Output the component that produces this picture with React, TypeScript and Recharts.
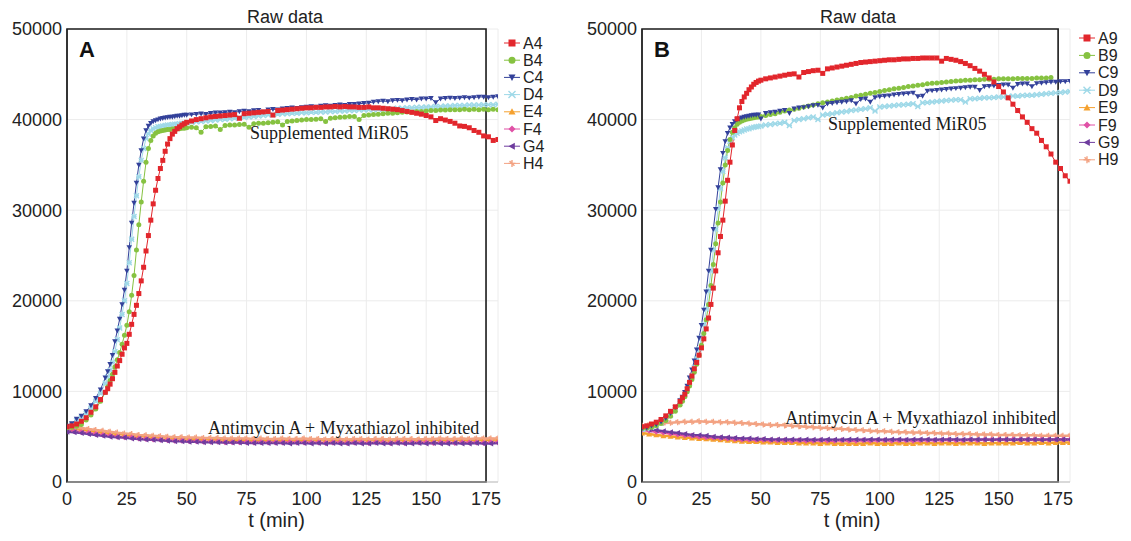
import React from "react";
import {
  LineChart,
  Line,
  XAxis,
  YAxis,
  CartesianGrid,
  ReferenceArea,
  ReferenceDot,
  Label,
} from "recharts";

// sampling grid of the rising wells (denser through the rise)
const riseMinutes = [
  0, 2, 4, 6, 8, 10, 12, 14, 16,
  17, 18, 19, 20, 21, 22, 23, 24, 25, 26, 27, 28, 29, 30, 31, 32,
  33, 34, 35, 36, 37, 38, 39, 40, 41, 42, 43, 44, 45, 46, 47, 48, 49, 50,
  52, 54, 56, 58, 60, 62, 64, 66, 68, 70,
  72, 74, 76, 78, 80, 82, 84, 86, 88, 90,
  92, 94, 96, 98, 100, 102, 104, 106, 108, 110,
  112, 114, 116, 118, 120, 122, 124, 126, 128, 130,
  132, 134, 136, 138, 140, 142, 144, 146, 148, 150,
  152, 154, 156, 158, 160, 162, 164, 166, 168, 170,
  172, 174, 176, 178, 180,
];

// sampling grid of the inhibited wells
const flatMinutes = [
  0, 3, 6, 9, 12, 15, 18, 21, 24, 27,
  30, 33, 36, 39, 42, 45, 48, 51, 54, 57,
  60, 63, 66, 69, 72, 75, 78, 81, 84, 87,
  90, 93, 96, 99, 102, 105, 108, 111, 114, 117,
  120, 123, 126, 129, 132, 135, 138, 141, 144, 147,
  150, 153, 156, 159, 162, 165, 168, 171, 174, 177,
  180,
];

const xTicks = [0, 25, 50, 75, 100, 125, 150, 175];
const yTicks = [0, 10000, 20000, 30000, 40000, 50000];

// ---- panel A: wells A4..H4 ----
const a4 = [
  6100, 6200, 6400, 6700, 7100, 7700, 8300, 9100, 9900,
  10300, 10800, 11400, 12100, 12800, 13400, 14100, 14800, 15300, 16300, 17400, 18500, 19500, 20800, 22200, 23700,
  25500, 27200, 28900, 30700, 32200, 33500, 34600, 35500, 36500, 37300, 37900, 38400, 38700, 39000, 39200, 39400, 39550, 39700,
  39850, 40000, 40100, 40200, 40300, 40350, 40400, 40450, 40500, 40550,
  40150, 40650, 40700, 40750, 40800, 40850, 40900, 40500, 41000, 41050,
  41100, 41150, 41200, 41250, 41300, 41300, 41350, 41350, 41400, 41400,
  41450, 41400, 41450, 41400, 41400, 41350, 41350, 41400, 41300, 41300,
  41250, 41200, 41150, 41100, 41000, 40900, 40800, 40700, 40600, 40450,
  40300, 39900, 40100, 39950, 39800, 39600, 39300, 39250, 39100, 38800,
  38600, 38200, 38100, 37700, 37800,
];
const b4 = [
  6000, 6050, 6150, 6350, 6850, 7400, 8050, 8900, 9900,
  10500, 11200, 11900, 12700, 13500, 14300, 15200, 16200, 17300, 18800, 20600, 22800, 25600, 28400, 30900, 33200,
  35300, 36800, 37700, 38200, 38500, 38650, 38750, 38800, 38850, 38900, 38900, 38950, 39000, 38950, 39000, 39050, 39050, 39100,
  39150, 39100, 38600, 39200, 39250, 39300, 38900, 39350, 39400, 39400,
  39450, 39500, 39150, 39550, 39600, 39600, 39650, 39700, 39750, 39400,
  39800, 39850, 39900, 39950, 40000, 40000, 40050, 40100, 39800, 40150,
  40200, 40250, 40300, 40350, 40350, 40000, 40450, 40500, 40550, 40600,
  40650, 40700, 40700, 40750, 40800, 40850, 40850, 40900, 40900, 40950,
  41000, 41000, 41050, 41050, 41100, 41100, 41100, 41150, 41100, 41150,
  41100, 41150, 41100, 41150, 41100,
];
const c4 = [
  6200, 6450, 6950, 7300, 7800, 8450, 9250, 10200, 11500,
  12200, 13000, 14000, 15500, 16700, 18000, 19600, 21200, 23300, 25900, 28600, 30800, 33000, 35000, 36600, 37900,
  38800, 39300, 39600, 39800, 39900, 40000, 40100, 40150, 40200, 40250, 40300, 40300, 40350, 40400, 40400, 40450, 40500, 40500,
  40550, 40600, 40650, 40600, 40700, 40750, 40750, 40800, 40850, 40800,
  40900, 40950, 40900, 41000, 41050, 40850, 41100, 41150, 41100, 41200,
  41250, 41300, 41250, 41350, 41400, 41450, 41400, 41500, 41550, 41500,
  41600, 41650, 41600, 41700, 41700, 41750, 41800, 41850, 41950, 42000,
  42050, 42000, 42100, 42150, 42100, 42200, 42250, 42200, 42300, 42300,
  42350, 41900, 42300, 42350, 42400, 42350, 42400, 42450, 42400, 42450,
  42500, 42500, 42450, 42500, 42550,
];
const d4 = [
  6100, 6350, 6750, 7150, 7600, 8150, 8900, 9800, 10900,
  11600, 12300, 13200, 14400, 15700, 17000, 18500, 20000, 21900, 24200, 26800, 29300, 31600, 33700, 35500, 36800,
  37900, 38400, 38800, 39000, 39100, 39200, 39250, 39300, 39350, 39400, 39400, 39450, 39500, 39500, 39550, 39600, 39600, 39650,
  39700, 39750, 39800, 39850, 39900, 39950, 40000, 40050, 40100, 40150,
  40200, 40250, 40300, 40350, 40400, 40450, 40500, 40550, 40600, 40650,
  40650, 40700, 40700, 40750, 40750, 40800, 40800, 40850, 40850, 40900,
  40900, 40950, 40950, 41000, 41000, 41050, 41050, 41100, 41100, 41150,
  41150, 41200, 41200, 41250, 41250, 41300, 41300, 41350, 41350, 41400,
  41400, 41450, 41450, 41500, 41500, 41550, 41550, 41550, 41600, 41600,
  41600, 41650, 41650, 41650, 41700,
];
const e4 = [
  5950, 5850, 5800, 5700, 5600, 5500, 5400, 5300, 5250, 5150,
  5100, 5050, 5000, 4950, 4900, 4850, 4800, 4800, 4750, 4750,
  4700, 4700, 4700, 4650, 4650, 4650, 4650, 4600, 4650, 4600,
  4600, 4650, 4600, 4600, 4600, 4650, 4600, 4600, 4600, 4600,
  4600, 4600, 4650, 4600, 4600, 4600, 4600, 4650, 4600, 4650,
  4600, 4650, 4650, 4600, 4650, 4650, 4650, 4650, 4700, 4650,
  4700,
];
const f4 = [
  5650, 5600, 5500, 5400, 5300, 5200, 5100, 5000, 4950, 4900,
  4800, 4750, 4700, 4650, 4600, 4550, 4550, 4500, 4500, 4450,
  4450, 4450, 4400, 4400, 4400, 4400, 4350, 4400, 4350, 4350,
  4350, 4400, 4350, 4350, 4350, 4350, 4300, 4350, 4350, 4300,
  4350, 4350, 4300, 4350, 4350, 4300, 4350, 4300, 4350, 4350,
  4350, 4300, 4350, 4350, 4300, 4350, 4350, 4350, 4300, 4350,
  4350,
];
const g4 = [
  5550, 5500, 5400, 5300, 5200, 5100, 5000, 4950, 4900, 4800,
  4750, 4700, 4650, 4600, 4550, 4500, 4500, 4450, 4450, 4400,
  4400, 4400, 4350, 4350, 4350, 4300, 4300, 4300, 4300, 4300,
  4300, 4250, 4300, 4300, 4250, 4300, 4250, 4300, 4250, 4250,
  4300, 4250, 4250, 4300, 4250, 4250, 4300, 4250, 4250, 4300,
  4250, 4300, 4250, 4250, 4300, 4250, 4250, 4300, 4250, 4250,
  4300,
];
const h4 = [
  6100, 6000, 5950, 5850, 5750, 5650, 5550, 5450, 5350, 5300,
  5200, 5150, 5100, 5050, 5000, 4950, 4950, 4900, 4900, 4850,
  4850, 4850, 4800, 4800, 4800, 4800, 4750, 4800, 4750, 4750,
  4800, 4750, 4750, 4800, 4750, 4750, 4700, 4750, 4750, 4700,
  4750, 4750, 4700, 4750, 4750, 4700, 4750, 4750, 4750, 4700,
  4750, 4750, 4800, 4750, 4750, 4800, 4750, 4800, 4800, 4800,
  4800,
];

// ---- panel B: wells A9..H9 ----
const a9 = [
  6100, 6200, 6400, 6600, 6900, 7300, 7800, 8300, 8900,
  9300, 9700, 10300, 11000, 11700, 12500, 13200, 14000, 14800, 15800, 16900, 18100, 19600, 21400, 23300, 25300,
  27100, 28900, 31000, 33300, 35300, 37200, 38800, 40100, 41300, 42000, 42500, 42900, 43300, 43600, 43900, 44100, 44250, 44350,
  44500, 44600, 44700, 44800, 44900, 45000, 45050, 44700, 45200, 45300,
  45400, 45450, 45100, 45600, 45700, 45800, 45900, 46000, 46100, 46200,
  46300, 46350, 46400, 46450, 46500, 46550, 46600, 46600, 46650, 46700,
  46700, 46750, 46750, 46800, 46800, 46800, 46800, 46450, 46750, 46650,
  46550, 46400, 46200, 45950, 45650, 45350, 45000, 44600, 44150, 43650,
  43050, 42400, 41700, 41000, 40300, 39700, 39000, 38500, 37700, 37000,
  36200, 35300, 34600, 33800, 33200,
];
const b9 = [
  5900, 5950, 6050, 6200, 6450, 6800, 7250, 7800, 8500,
  8900, 9400, 9950, 10600, 11300, 12100, 13000, 14000, 15100, 16400, 17900, 19600, 21700, 24000, 26300, 28600,
  30900, 33000, 35000, 36600, 37800, 38600, 39100, 39500, 39700, 39850, 39950, 40050, 40100, 40150, 40200, 40250, 40300, 40350,
  40450, 40550, 40650, 40800, 40950, 41050, 41150, 41250, 41400, 41500,
  41600, 41750, 41850, 41950, 42050, 42150, 42250, 42350, 42450, 42600,
  42700, 42800, 42900, 43000, 43100, 43200, 43300, 43400, 43450, 43550,
  43650, 43700, 43800, 43850, 43950, 44000, 44050, 44100, 44150, 44200,
  44250, 44300, 44350, 44350, 44400, 44400, 44450, 44450, 44450, 44500,
  44500, 44500, 44500, 44550, 44550, 44550, 44550, 44600, 44600, 44600,
  44650, null, null, null, null,
];
const c9 = [
  5900, 6000, 6200, 6350, 6650, 7050, 7600, 8250, 9000,
  9400, 9900, 10600, 11500, 12400, 13400, 14600, 15900, 17300, 19000, 21000, 23300, 25600, 27900, 30100, 32500,
  34500, 36300, 37600, 38500, 39100, 39500, 39800, 40000, 40100, 40200, 40300, 40350, 40400, 40450, 40500, 40500, 40550, 40100,
  40700, 40800, 40850, 40950, 41050, 40700, 41200, 41300, 41350, 41450,
  41550, 41600, 41300, 41750, 41800, 41900, 41950, 42000, 42100, 41750,
  42250, 42300, 41950, 42450, 42550, 42600, 42650, 42750, 42800, 42850,
  42900, 42950, 42550, 42600, 43150, 43200, 43250, 43300, 43350, 43400,
  43450, 43500, 43550, 43600, 43600, 43250, 43650, 43700, 43750, 43800,
  43850, 43850, 43500, 43900, 43950, 43950, 43650, 44000, 44050, 44100,
  44150, 44150, 44200, 44200, 44250,
];
const d9 = [
  5800, 5900, 6050, 6200, 6500, 6900, 7400, 8000, 8700,
  9100, 9600, 10200, 10900, 11700, 12600, 13600, 14700, 15900, 17400, 19100, 21100, 23300, 25600, 27900, 30200,
  32400, 34300, 35800, 36900, 37600, 38000, 38300, 38500, 38650, 38750, 38850, 38950, 39000, 39100, 39150, 39200, 39250, 39300,
  39400, 39450, 39550, 39600, 39700, 39350, 39900, 40000, 40100, 40200,
  40300, 40000, 40500, 40600, 40650, 40750, 40850, 40900, 41000, 41050,
  41150, 41200, 41300, 40950, 41400, 41450, 41500, 41550, 41600, 41650,
  41700, 41750, 41450, 41850, 41900, 41950, 42000, 42050, 42100, 42150,
  42200, 42200, 41950, 42300, 42300, 42350, 42400, 42400, 42450, 42500,
  42500, 42550, 42600, 42600, 42650, 42700, 42700, 42750, 42800, 42850,
  42900, 42950, 43000, 43050, 43100,
];
const e9 = [
  5400, 5300, 5200, 5100, 5050, 4950, 4900, 4850, 4800, 4750,
  4700, 4650, 4600, 4550, 4500, 4450, 4450, 4400, 4400, 4350,
  4350, 4350, 4300, 4300, 4300, 4250, 4300, 4250, 4250, 4250,
  4250, 4250, 4300, 4250, 4250, 4250, 4300, 4250, 4250, 4300,
  4300, 4250, 4300, 4300, 4250, 4300, 4300, 4300, 4250, 4300,
  4300, 4300, 4300, 4350, 4300, 4300, 4350, 4300, 4350, 4350,
  4350,
];
const f9 = [
  5750, 5650, 5550, 5450, 5350, 5250, 5150, 5100, 5000, 4950,
  4900, 4850, 4800, 4750, 4700, 4700, 4650, 4650, 4600, 4600,
  4600, 4550, 4600, 4550, 4550, 4600, 4550, 4550, 4600, 4550,
  4550, 4600, 4550, 4600, 4600, 4550, 4600, 4600, 4550, 4600,
  4600, 4600, 4600, 4650, 4600, 4600, 4650, 4600, 4650, 4650,
  4650, 4650, 4700, 4650, 4650, 4700, 4700, 4650, 4700, 4700,
  4700,
];
const g9 = [
  5900, 5800, 5700, 5600, 5500, 5400, 5300, 5200, 5150, 5100,
  5000, 4950, 4900, 4850, 4800, 4800, 4750, 4750, 4700, 4700,
  4700, 4700, 4650, 4700, 4650, 4650, 4700, 4650, 4650, 4700,
  4700, 4650, 4700, 4700, 4650, 4700, 4700, 4650, 4700, 4700,
  4700, 4650, 4700, 4700, 4700, 4650, 4700, 4700, 4700, 4650,
  4700, 4700, 4650, 4700, 4700, 4700, 4650, 4700, 4700, 4700,
  4700,
];
const h9 = [
  6200, 6300, 6400, 6500, 6550, 6600, 6650, 6650, 6700, 6650,
  6650, 6600, 6600, 6550, 6500, 6450, 6400, 6350, 6300, 6300,
  6250, 6200, 6150, 6100, 6050, 6000, 5950, 5900, 5850, 5800,
  5750, 5700, 5650, 5600, 5600, 5550, 5500, 5500, 5450, 5450,
  5400, 5400, 5350, 5350, 5300, 5300, 5300, 5250, 5250, 5250,
  5200, 5200, 5200, 5150, 5150, 5150, 5100, 5100, 5100, 5100,
  5100,
];

const wellLetters = ["A", "B", "C", "D", "E", "F", "G", "H"];

// marker look per well row (inhibited wells drawn as thicker fuzzy bands)
const wellStyle: Record<string, { color: string; shape: string; size: number; width: number }> = {
  A: { color: "#e2262c", shape: "square", size: 5, width: 1 },
  B: { color: "#86c241", shape: "circle", size: 5, width: 1 },
  C: { color: "#33419a", shape: "triangleDown", size: 5.5, width: 1 },
  D: { color: "#9fd9e8", shape: "cross", size: 5, width: 1 },
  E: { color: "#f5a12f", shape: "triangleUp", size: 6, width: 2.5 },
  F: { color: "#e051a6", shape: "diamond", size: 6, width: 2.5 },
  G: { color: "#6e3c9e", shape: "triangleLeft", size: 6, width: 2.5 },
  H: { color: "#f3a383", shape: "star", size: 6, width: 2.5 },
};

const SANS = "'Liberation Sans', Arial, sans-serif";
const SERIF = "'Liberation Serif', 'Times New Roman', serif";

function Marker({ shape, x, y, size, color }: any) {
  const h = size / 2;
  switch (shape) {
    case "square":
      return <rect x={x - h} y={y - h} width={size} height={size} fill={color} />;
    case "circle":
      return <circle cx={x} cy={y} r={h} fill={color} />;
    case "triangleDown":
      return <path d={`M${x - h},${y - h * 0.8}L${x + h},${y - h * 0.8}L${x},${y + h}Z`} fill={color} />;
    case "triangleUp":
      return <path d={`M${x - h},${y + h * 0.8}L${x + h},${y + h * 0.8}L${x},${y - h}Z`} fill={color} />;
    case "triangleLeft":
      return <path d={`M${x - h},${y}L${x + h * 0.8},${y - h}L${x + h * 0.8},${y + h}Z`} fill={color} />;
    case "diamond":
      return <path d={`M${x},${y - h}L${x + h},${y}L${x},${y + h}L${x - h},${y}Z`} fill={color} />;
    case "cross":
      return (
        <path
          d={`M${x - h},${y - h}L${x + h},${y + h}M${x - h},${y + h}L${x + h},${y - h}M${x - h},${y}L${x + h},${y}`}
          stroke={color}
          strokeWidth={1.4}
        />
      );
    default:
      return (
        <path
          d={`M${x - h},${y}L${x + h},${y}M${x},${y - h}L${x},${y + h}M${x - h * 0.7},${y - h * 0.7}L${x + h * 0.7},${y + h * 0.7}`}
          stroke={color}
          strokeWidth={1.4}
        />
      );
  }
}

const makeDot = (letter: string) => (p: any) => {
  const st = wellStyle[letter];
  if (p.cx == null || p.cy == null || p.payload?.v == null) return <g key={p.index} />;
  return <Marker key={p.index} shape={st.shape} x={p.cx} y={p.cy} size={st.size} color={st.color} />;
};

const toPoints = (times: number[], values: (number | null)[]) =>
  times.map((t, i) => ({ t, v: values[i] }));

type Well = { letter: string; times: number[]; values: (number | null)[] };

function Panel({ left, width, marginRight, wells, suffix, notes, labelDx }: any) {
  // inhibited wells first, rising wells on top, A last
  const drawOrder = ["E", "H", "F", "G", "D", "B", "C", "A"];
  return (
    <div style={{ position: "absolute", left, top: 0 }}>
      <LineChart width={width} height={541} margin={{ top: 29, right: marginRight, bottom: 9, left: 7 }}>
        <CartesianGrid stroke="#ececec" />
        <XAxis
          dataKey="t"
          type="number"
          domain={[0, 180]}
          ticks={xTicks}
          allowDataOverflow
          height={50}
          tickSize={0}
          tickMargin={10}
          axisLine={{ stroke: "#bdbdbd" }}
          tickLine={false}
          tick={{ fontSize: 18, fill: "#222", fontFamily: SANS }}
        >
          <Label
            value="t (min)"
            position="insideBottom"
            offset={5}
            dx={labelDx}
            style={{ fontSize: 20, fill: "#222", fontFamily: SANS }}
          />
        </XAxis>
        <YAxis
          type="number"
          domain={[0, 50000]}
          ticks={yTicks}
          width={60}
          tickSize={0}
          tickMargin={5}
          axisLine={{ stroke: "#222" }}
          tickLine={false}
          tick={{ fontSize: 18, fill: "#222", fontFamily: SANS }}
        />
        {drawOrder.map((letter) => {
          const w: Well = wells.find((x: Well) => x.letter === letter);
          const st = wellStyle[letter];
          return (
            <Line
              key={letter + suffix}
              name={letter + suffix}
              data={toPoints(w.times, w.values)}
              dataKey="v"
              type="linear"
              stroke={st.color}
              strokeWidth={st.width}
              dot={makeDot(letter)}
              activeDot={false}
              isAnimationActive={false}
            />
          );
        })}
        <ReferenceArea x1={0} x2={175} y1={0} y2={50000} fill="none" stroke="#1c1c1c" strokeWidth={1.6} ifOverflow="visible" />
        {notes.map((n: any) => (
          <ReferenceDot
            key={n.text}
            x={n.t}
            y={n.v}
            r={0}
            ifOverflow="visible"
            shape={(p: any) => (
              <text x={p.cx} y={p.cy} fontFamily={SERIF} fontSize={18} fill="#1a1a1a">
                {n.text}
              </text>
            )}
          />
        ))}
      </LineChart>
    </div>
  );
}

function LegendBlock({ x, y, step, suffix }: any) {
  return (
    <g>
      {wellLetters.map((letter, i) => {
        const st = wellStyle[letter];
        const cy = y + i * step;
        return (
          <g key={letter}>
            <line x1={x} x2={x + 16} y1={cy} y2={cy} stroke={st.color} strokeWidth={1} />
            <Marker shape={st.shape} x={x + 8} y={cy} size={7} color={st.color} />
            <text x={x + 19} y={cy + 5.5} fontFamily={SANS} fontSize={16} fill="#222">
              {letter + suffix}
            </text>
          </g>
        );
      })}
    </g>
  );
}

export default function App() {
  const wellsA: Well[] = [
    { letter: "A", times: riseMinutes, values: a4 },
    { letter: "B", times: riseMinutes, values: b4 },
    { letter: "C", times: riseMinutes, values: c4 },
    { letter: "D", times: riseMinutes, values: d4 },
    { letter: "E", times: flatMinutes, values: e4 },
    { letter: "F", times: flatMinutes, values: f4 },
    { letter: "G", times: flatMinutes, values: g4 },
    { letter: "H", times: flatMinutes, values: h4 },
  ];
  const wellsB: Well[] = [
    { letter: "A", times: riseMinutes, values: a9 },
    { letter: "B", times: riseMinutes, values: b9 },
    { letter: "C", times: riseMinutes, values: c9 },
    { letter: "D", times: riseMinutes, values: d9 },
    { letter: "E", times: flatMinutes, values: e9 },
    { letter: "F", times: flatMinutes, values: f9 },
    { letter: "G", times: flatMinutes, values: g9 },
    { letter: "H", times: flatMinutes, values: h9 },
  ];
  const notesA = [
    { text: "Supplemented MiR05", t: 76.4, v: 37850 },
    { text: "Antimycin A + Myxathiazol inhibited", t: 58.9, v: 5350 },
  ];
  const notesB = [
    { text: "Supplemented MiR05", t: 78.2, v: 38900 },
    { text: "Antimycin A + Myxathiazol inhibited", t: 60.2, v: 6350 },
  ];

  return (
    <div style={{ position: "absolute", left: 0, top: 0, width: 1131, height: 541, background: "#fff", overflow: "hidden" }}>
      <Panel left={0} width={560} marginRight={62} wells={wellsA} suffix="4" notes={notesA} labelDx={-6} />
      <Panel left={575} width={556} marginRight={61} wells={wellsB} suffix="9" notes={notesB} labelDx={-4} />
      <svg width={1131} height={541} style={{ position: "absolute", left: 0, top: 0, pointerEvents: "none" }}>
        <text x={285} y={23} textAnchor="middle" fontFamily={SANS} fontSize={18} fill="#222">Raw data</text>
        <text x={858} y={23} textAnchor="middle" fontFamily={SANS} fontSize={18} fill="#222">Raw data</text>
        <text x={79} y={57} fontFamily={SANS} fontSize={22} fontWeight="bold" fill="#111">A</text>
        <text x={654} y={57} fontFamily={SANS} fontSize={22} fontWeight="bold" fill="#111">B</text>
        <LegendBlock x={504} y={43} step={17.2} suffix="4" />
        <LegendBlock x={1079} y={38} step={17.4} suffix="9" />
      </svg>
    </div>
  );
}
